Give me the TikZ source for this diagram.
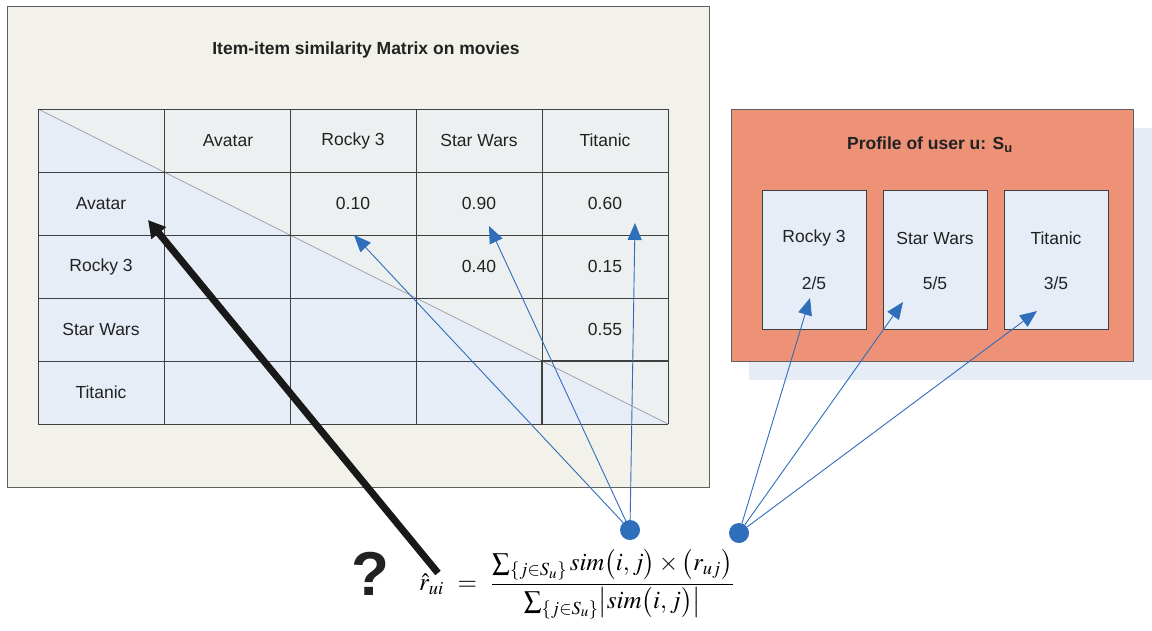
\documentclass[tikz,border=0pt]{standalone}
\usepackage{mathptmx}
\usepackage[no-math]{fontspec}
\setmainfont{Liberation Sans}
\usetikzlibrary{arrows.meta}
\definecolor{outerfill}{HTML}{F2F2EA}
\definecolor{outerline}{HTML}{606060}
\definecolor{tabgray}{HTML}{EDF0F1}
\definecolor{tabblue}{HTML}{E7EDF6}
\definecolor{gridcol}{HTML}{404040}
\definecolor{orangefill}{HTML}{ED9177}
\definecolor{innerfill}{HTML}{E6EDF7}
\definecolor{shadowfill}{HTML}{E5ECF5}
\definecolor{arrowblue}{HTML}{2F6EBA}
\definecolor{txt}{HTML}{222222}
\tikzset{
  panel/.style={draw=outerline, line width=1pt},
  gridline/.style={draw=gridcol, line width=0.9pt},
  celltext/.style={font=\fontsize{17.5}{20}\selectfont, text=txt, inner sep=0pt},
  titletext/.style={font=\fontsize{17.5}{20}\selectfont\bfseries, text=txt, inner sep=0pt},
  itembox/.style={draw=gridcol, line width=0.9pt, fill=innerfill},
  barrow/.style={draw=arrowblue, line width=0.9pt, -{Triangle[length=17pt,width=14pt]}, arrowblue},
  dot/.style={circle, fill=arrowblue, minimum size=20pt, inner sep=0pt},
  formula/.style={font=\fontsize{25}{30}\selectfont, inner sep=0pt}
}
\begin{document}
\begin{tikzpicture}[x=1pt,y=-1pt]
\useasboundingbox (0,0) rectangle (1152,630);
\fill[white] (0,0) rectangle (1152,630);

% ---- left panel ----
\draw[panel, fill=outerfill] (7,6) rectangle (709,487);
\node[titletext] (mtitle) at (366,50) {Item-item similarity Matrix on movies};

% table fill
\fill[tabgray] (38,109) rectangle (668,424);
\fill[tabblue] (38,109) -- (668,424) -- (38,424) -- cycle;
\draw[draw=gray!90, line width=0.6pt] (38,109) -- (668,424);
\foreach \x in {38,164,290,416,542,668} \draw[gridline] (\x,109) -- (\x,424);
\foreach \y in {109,172,235,298,361,424} \draw[gridline] (38,\y) -- (668,\y);
\draw[draw=gridcol, line width=1.3pt] (542,424) -- (542,361) -- (668,361);

% headers
\node[celltext] (hA) at (228,140.5) {Avatar};
\node[celltext] (hR) at (353,140.5) {Rocky 3};
\node[celltext] (hS) at (479,140.5) {Star Wars};
\node[celltext] (hT) at (605,140.5) {Titanic};
\node[celltext] (rA) at (101,203.5) {Avatar};
\node[celltext] (rR) at (101,266.5) {Rocky 3};
\node[celltext] (rS) at (101,329.5) {Star Wars};
\node[celltext] (rT) at (101,392.5) {Titanic};
% values
\node[celltext] (vAR) at (353,203.5) {0.10};
\node[celltext] (vAS) at (479,203.5) {0.90};
\node[celltext] (vAT) at (605,203.5) {0.60};
\node[celltext] (vRS) at (479,266.5) {0.40};
\node[celltext] (vRT) at (605,266.5) {0.15};
\node[celltext] (vST) at (605,329.5) {0.55};

% ---- right panel ----
\fill[shadowfill] (749,128) rectangle (1152,380);
\draw[panel, fill=orangefill] (731,109) rectangle (1133,361);
\node[titletext] (ptitle) at (930,145) {Profile of user u: S\textsubscript{u}};
\draw[itembox] (762,190) rectangle (866,329);
\draw[itembox] (883,190) rectangle (987,329);
\draw[itembox] (1004,190) rectangle (1108,329);
\node[celltext] (pR) at (814,238) {Rocky 3};
\node[celltext] (pRv) at (814,283) {2/5};
\node[celltext] (pS) at (935,238) {Star Wars};
\node[celltext] (pSv) at (935,283) {5/5};
\node[celltext] (pT) at (1056,238) {Titanic};
\node[celltext] (pTv) at (1056,283) {3/5};

% ---- formula ----
\node[formula, anchor=west] (eq) at (419,584) {$\displaystyle \hat{r}_{ui}\mkern6mu=\mkern6mu\frac{\sum_{\{j\in S_u\}} sim\bigl(i,j\bigr)\times\bigl(r_{uj}\bigr)}{\sum_{\{j\in S_u\}}\bigl|sim\bigl(i,j\bigr)\bigr|}$};
\node[font=\fontsize{62}{64}\selectfont\bfseries, text=txt, inner sep=0pt] (qm) at (370,574) {?};

% ---- connectors ----
\coordinate (blackstart) at (438,573);
\coordinate (blacktip) at (148,220);
\draw[line width=7pt, black!90, -{Triangle[length=17pt,width=18pt]}] (blackstart) -- (blacktip);

\node[dot] (d1) at (630,530) {};
\node[dot] (d2) at (739,533) {};
\coordinate (tAR) at (354,235);
\coordinate (tAS) at (489,226);
\coordinate (tAT) at (635,223);
\coordinate (tPR) at (810,298);
\coordinate (tPS) at (903,302);
\coordinate (tPT) at (1037,311);
\draw[barrow] (d1) -- (tAR);
\draw[barrow] (d1) -- (tAS);
\draw[barrow] (d1) -- (tAT);
\draw[barrow] (d2) -- (tPR);
\draw[barrow] (d2) -- (tPS);
\draw[barrow] (d2) -- (tPT);
\end{tikzpicture}
\end{document}
